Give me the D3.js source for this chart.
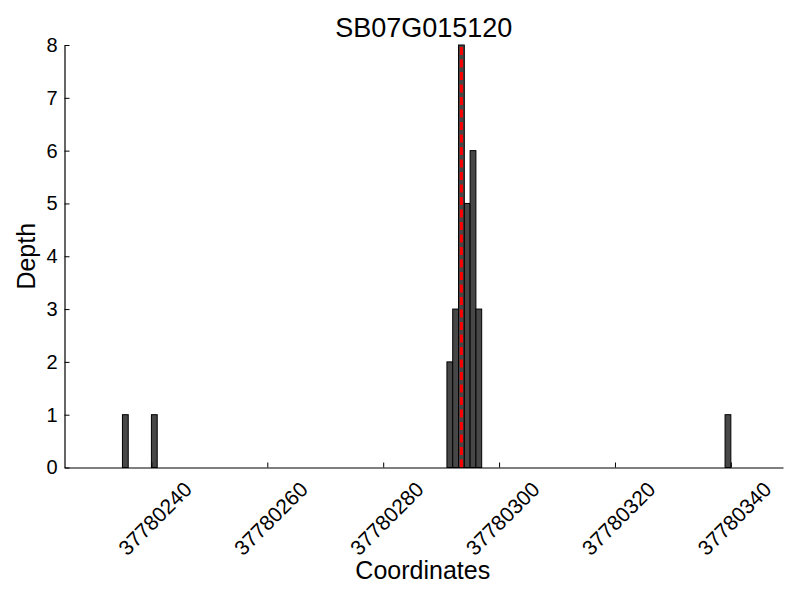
<!DOCTYPE html>
<html>
<head>
<meta charset="utf-8">
<script src="https://d3js.org/d3.v7.min.js"></script>
<style>
  body { margin: 0; background: #fff; }
  text { font-family: "Liberation Sans", Arial, Helvetica, sans-serif; fill: #000; }
</style>
</head>
<body>
<svg id="chart" width="800" height="600"></svg>
<script>
const title = "SB07G015120";
const positions = [37780235, 37780240, 37780291, 37780292, 37780293, 37780294, 37780295, 37780296, 37780339];
const depths = [1, 1, 2, 3, 8, 5, 6, 3, 1];
const markerPos = [37780293.5];
const xTicks = [37780240, 37780260, 37780280, 37780300, 37780320, 37780340];
const yTicks = [0, 1, 2, 3, 4, 5, 6, 7, 8];
const xDomain = [37780225, 37780349];
const yDomain = [0, 8];

const svg = d3.select("#chart");
const L = 64.5, R = 783, T = 45, B = 467.5;

const x = d3.scaleLinear().domain(xDomain).range([L, R]);
const y = d3.scaleLinear().domain(yDomain).range([B, T]);

// bars
svg.append("g").selectAll("rect")
  .data(positions.map((p, i) => ({p, d: depths[i]})))
  .join("rect")
  .attr("x", d => x(d.p))
  .attr("width", d => x(d.p + 1) - x(d.p))
  .attr("y", d => y(d.d))
  .attr("height", d => y(0) - y(d.d))
  .attr("fill", "#474747")
  .attr("stroke", "#000")
  .attr("stroke-width", 1);

// red dashed marker
svg.append("g").selectAll("line")
  .data(markerPos)
  .join("line")
  .attr("x1", d => x(d)).attr("x2", d => x(d))
  .attr("y1", y(0)).attr("y2", y(8))
  .attr("stroke", "#ff0000")
  .attr("stroke-width", 3)
  .attr("stroke-dasharray", "8,4.5");

// x axis
const xAxis = d3.axisBottom(x).tickValues(xTicks).tickSizeInner(-5).tickSizeOuter(0).tickFormat(d3.format("d"));
const gx = svg.append("g").attr("transform", `translate(0,${B})`).call(xAxis);
gx.select(".domain").attr("stroke", "#000").attr("stroke-width", 1.2);
gx.selectAll(".tick line").attr("stroke", "#000");
gx.selectAll(".tick text")
  .attr("font-size", 21)
  .attr("font-family", "Liberation Sans, Arial, sans-serif")
  .attr("text-anchor", "middle")
  .attr("dominant-baseline", "central")
  .attr("y", 0).attr("dy", null)
  .attr("transform", "translate(3,51) rotate(-45)");

// y axis
const yAxis = d3.axisLeft(y).tickValues(yTicks).tickSizeInner(-5).tickSizeOuter(0).tickFormat(d3.format("d"));
const gy = svg.append("g").attr("transform", `translate(${L},0)`).call(yAxis);
gy.select(".domain").attr("stroke", "#000").attr("stroke-width", 1.2);
gy.selectAll(".tick line").attr("stroke", "#000");
gy.selectAll(".tick text")
  .attr("font-size", 20)
  .attr("font-family", "Liberation Sans, Arial, sans-serif")
  .attr("x", -7);

// title
svg.append("text")
  .attr("x", (L + R) / 2).attr("y", 37)
  .attr("text-anchor", "middle")
  .attr("font-size", 27)
  .text(title);

// axis labels
svg.append("text")
  .attr("x", (L + R) / 2 - 1).attr("y", 579)
  .attr("text-anchor", "middle")
  .attr("font-size", 25)
  .text("Coordinates");

svg.append("text")
  .attr("transform", `translate(35,${(T + B) / 2}) rotate(-90)`)
  .attr("text-anchor", "middle")
  .attr("font-size", 25)
  .text("Depth");
</script>
</body>
</html>
